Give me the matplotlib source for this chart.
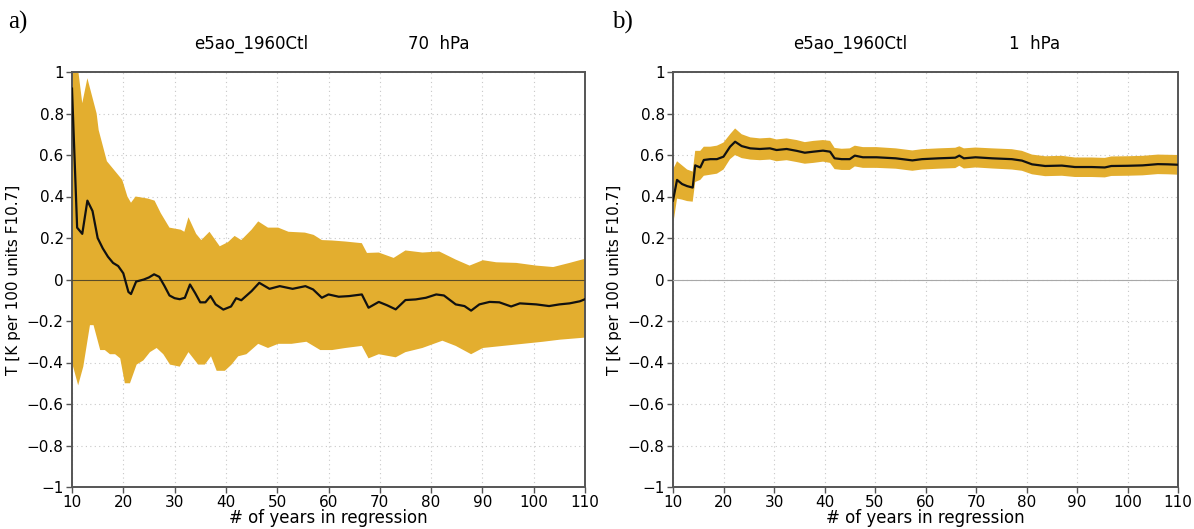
"""Regression coefficient vs. record length, 70 hPa and 1 hPa (e5ao_1960Ctl)."""
import numpy as np
import matplotlib
matplotlib.use("Agg")
import matplotlib.pyplot as plt

plt.rcParams["font.family"] = ["DejaVu Sans"]

# panel a) 70 hPa
x_a_mean = [10, 11, 12, 13, 14, 15, 16, 17, 18, 19, 20, 21, 21.5, 22.5, 24, 25, 26, 27, 28,
            29, 30, 31, 32, 33, 34, 35, 36, 37, 38, 39.5, 41, 42, 43, 45, 46.5, 48.5, 50.5,
            53, 55.5, 57, 58.7, 60, 62, 64, 66.5, 67.8, 69.8, 71.4, 73.1, 75, 77, 79, 81,
            82.5, 84.8, 86.5, 87.8, 89.4, 91.4, 93.3, 95.6, 97.3, 100.5, 103, 105, 107, 109, 110]
mean_a = [0.92, 0.25, 0.22, 0.38, 0.33, 0.20, 0.15, 0.11, 0.08, 0.065, 0.03, -0.06, -0.07,
          -0.01, 0.0, 0.01, 0.025, 0.013, -0.03, -0.077, -0.09, -0.095, -0.088, -0.024,
          -0.065, -0.11, -0.11, -0.08, -0.12, -0.145, -0.13, -0.09, -0.10, -0.056, -0.016,
          -0.045, -0.032, -0.045, -0.032, -0.048, -0.088, -0.072, -0.083, -0.08, -0.072,
          -0.136, -0.108, -0.124, -0.144, -0.099, -0.096, -0.088, -0.072, -0.077, -0.12,
          -0.128, -0.15, -0.12, -0.108, -0.11, -0.13, -0.115, -0.12, -0.128, -0.12, -0.115,
          -0.105, -0.095]

x_a_up = [10, 11, 12, 13, 14.8, 15.2, 16.8, 18.8, 19.8, 20.8, 21.5, 22.4, 24.8, 26.1, 27.3,
          29, 31.2, 31.9, 32.7, 34.2, 35.2, 36.8, 38.8, 40.4, 41.7, 43, 45, 46.3, 48.2, 50.2,
          52.2, 55.4, 57.1, 58.7, 60.7, 63.3, 66.5, 67.5, 69.8, 72.7, 75, 78.3, 81.6, 84.8,
          87.5, 90.1, 92.7, 96.6, 100.5, 103.8, 107, 110]
upper_a = [1.05, 1.05, 0.85, 0.97, 0.80, 0.72, 0.57, 0.51, 0.48, 0.40, 0.37, 0.40, 0.39, 0.38,
           0.32, 0.25, 0.24, 0.23, 0.30, 0.22, 0.19, 0.23, 0.16, 0.18, 0.21, 0.19, 0.24, 0.28,
           0.25, 0.25, 0.23, 0.226, 0.215, 0.19, 0.188, 0.183, 0.175, 0.128, 0.13, 0.104, 0.14,
           0.13, 0.135, 0.096, 0.067, 0.093, 0.083, 0.08, 0.067, 0.06, 0.08, 0.10]

x_a_lo = [10, 11.2, 12.2, 13.5, 14.2, 15.5, 16.4, 17.4, 18.4, 19.4, 20.3, 21.3, 22.6, 23.9,
          25.2, 26.5, 27.8, 29.1, 31, 32.7, 34.6, 35.9, 37.1, 38.2, 39.8, 41.1, 42.4, 44,
          46.3, 48.2, 50.2, 52.8, 55.7, 58.4, 60.7, 63.3, 66.5, 67.8, 69.8, 73.1, 75, 78.3,
          82.2, 84.8, 87.8, 90.1, 94, 97.9, 101.8, 105.1, 110]
lower_a = [-0.40, -0.51, -0.42, -0.22, -0.22, -0.34, -0.34, -0.36, -0.36, -0.38, -0.50, -0.50,
           -0.41, -0.39, -0.35, -0.33, -0.36, -0.41, -0.42, -0.35, -0.41, -0.41, -0.37, -0.44,
           -0.44, -0.41, -0.37, -0.36, -0.31, -0.33, -0.31, -0.31, -0.30, -0.34, -0.34, -0.33,
           -0.32, -0.38, -0.36, -0.375, -0.35, -0.33, -0.295, -0.32, -0.36, -0.33, -0.32,
           -0.31, -0.30, -0.29, -0.28]

# panel b) 1 hPa
x_b = [10, 10.8, 11.8, 12.8, 13.9, 14.4, 15.4, 16.1, 17.4, 18.7, 20, 21.3, 22.3, 23.6, 25.3,
       27.2, 29.2, 30.5, 32.5, 34.5, 36.1, 37.8, 39.7, 41.1, 42, 43.4, 45, 46, 47.6, 50.3,
       54.1, 57.4, 59.3, 62.6, 65.9, 66.7, 67.6, 69.9, 73.2, 77.1, 79.1, 81.1, 83.7, 87,
       89.6, 92.9, 95.5, 96.8, 100, 103, 106, 108, 110]
mean_b = [0.38, 0.48, 0.46, 0.45, 0.443, 0.55, 0.54, 0.576, 0.58, 0.58, 0.592, 0.64, 0.664,
          0.643, 0.632, 0.629, 0.632, 0.624, 0.629, 0.62, 0.611, 0.616, 0.621, 0.616, 0.584,
          0.58, 0.58, 0.597, 0.589, 0.589, 0.584, 0.574, 0.58, 0.584, 0.587, 0.597, 0.584,
          0.589, 0.584, 0.58, 0.573, 0.555, 0.547, 0.549, 0.542, 0.542, 0.54, 0.547, 0.548,
          0.55, 0.556, 0.555, 0.553]
upper_b = [0.53, 0.57, 0.55, 0.53, 0.52, 0.62, 0.62, 0.64, 0.64, 0.645, 0.66, 0.70, 0.728,
           0.70, 0.685, 0.68, 0.683, 0.675, 0.68, 0.672, 0.662, 0.668, 0.672, 0.668, 0.634,
           0.63, 0.632, 0.645, 0.638, 0.638, 0.632, 0.622, 0.628, 0.632, 0.635, 0.642, 0.632,
           0.636, 0.632, 0.628, 0.62, 0.602, 0.594, 0.596, 0.588, 0.588, 0.586, 0.593, 0.594,
           0.596, 0.602, 0.601, 0.60]
lower_b = [0.26, 0.39, 0.385, 0.378, 0.375, 0.47, 0.48, 0.50, 0.505, 0.51, 0.53, 0.58, 0.60,
           0.585, 0.578, 0.575, 0.578, 0.57, 0.575, 0.566, 0.558, 0.562, 0.568, 0.562, 0.532,
           0.528, 0.528, 0.545, 0.538, 0.538, 0.534, 0.524, 0.53, 0.534, 0.537, 0.548, 0.535,
           0.54, 0.535, 0.53, 0.524, 0.507, 0.498, 0.5, 0.494, 0.494, 0.492, 0.499, 0.5,
           0.502, 0.508, 0.507, 0.505]

x_ticks = [10, 20, 30, 40, 50, 60, 70, 80, 90, 100, 110]
y_ticks = [-1, -0.8, -0.6, -0.4, -0.2, 0, 0.2, 0.4, 0.6, 0.8, 1]
y_ticklabels = ["\u22121", "\u22120.8", "\u22120.6", "\u22120.4", "\u22120.2", "0",
                "0.2", "0.4", "0.6", "0.8", "1"]

FILL = "#E3AE2F"
SPINE = "#555555"


def panel(ax, x_mean, mean, x_up, up, x_lo, lo, level, zero_color):
    xs = np.r_[x_up, x_lo[::-1]]
    ys = np.r_[up, lo[::-1]]
    ax.fill(xs, ys, color=FILL, lw=0, zorder=2)
    ax.axhline(0, color=zero_color, lw=0.8, zorder=3)
    ax.plot(x_mean, mean, color="#111111", lw=1.6, zorder=4)
    ax.set_xlim(10, 110)
    ax.set_ylim(-1, 1)
    ax.set_xticks(x_ticks)
    ax.set_yticks(y_ticks)
    ax.set_yticklabels(y_ticklabels)
    ax.grid(True, ls=(0, (1, 3)), color="#c8c8c8", lw=0.8, zorder=1)
    for s in ax.spines.values():
        s.set_color(SPINE)
        s.set_linewidth(1.4)
    ax.tick_params(labelsize=11, length=4, width=1, color=SPINE, pad=2)
    ax.set_xlabel("# of years in regression", fontsize=12, labelpad=-1)
    ax.set_ylabel("T [K per 100 units F10.7]", fontsize=11, labelpad=4)
    ax.text(0.35, 1.045, "e5ao_1960Ctl", transform=ax.transAxes, ha="center",
            va="bottom", fontsize=12)
    ax.text(0.715, 1.045, level, transform=ax.transAxes, ha="center",
            va="bottom", fontsize=12)


fig = plt.figure(figsize=(11.94, 5.29), dpi=100)
ax1 = fig.add_axes([72 / 1194, 42 / 529, 513 / 1194, 415 / 529])
ax2 = fig.add_axes([673 / 1194, 42 / 529, 505 / 1194, 415 / 529])

panel(ax1, x_a_mean, mean_a, x_a_up, upper_a, x_a_lo, lower_a, "70  hPa", "#5a4c28")
panel(ax2, x_b, mean_b, x_b, upper_b, x_b, lower_b, "1  hPa", "#a8a8a8")

fig.text(8 / 1194, 1 - 22 / 529, "a)", family="Liberation Serif", fontsize=18,
         va="center", ha="left")
fig.text(612 / 1194, 1 - 22 / 529, "b)", family="Liberation Serif", fontsize=18,
         va="center", ha="left")

fig.savefig("out.png", dpi=100)
